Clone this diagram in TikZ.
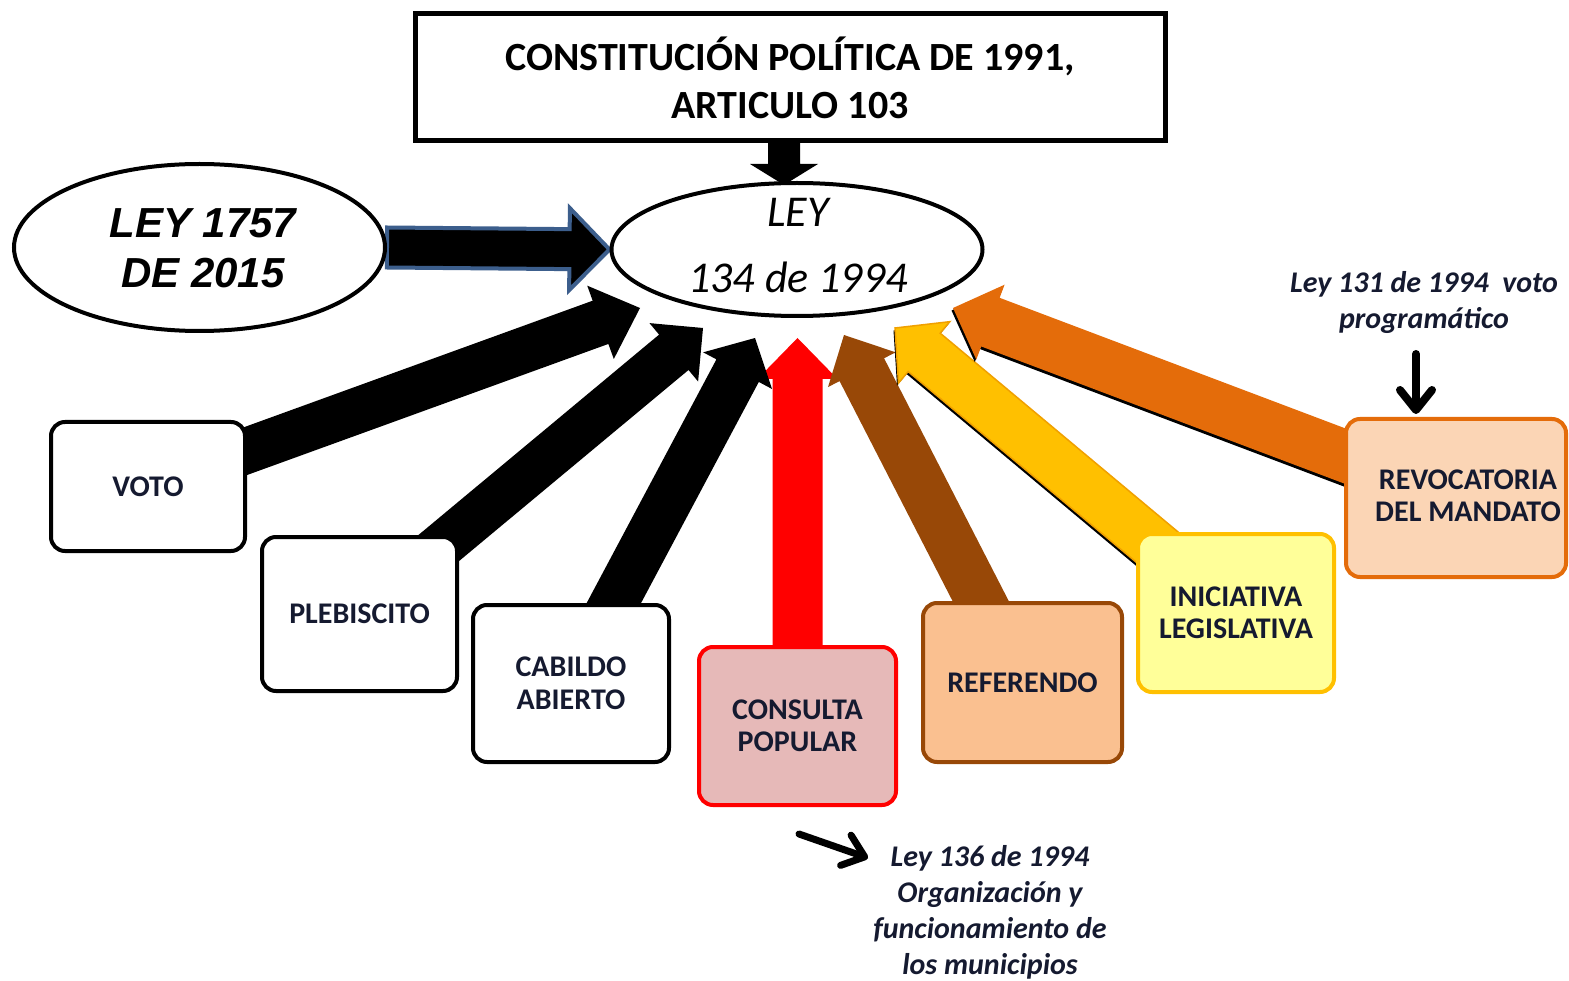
\documentclass[tikz,border=0pt]{standalone}
\usepackage{fontspec}
\setmainfont{Carlito}
\newfontfamily\arialfont{Liberation Sans}
\usetikzlibrary{shapes.geometric,calc,arrows.meta,backgrounds}
\definecolor{txt}{HTML}{151A30}
\definecolor{blueo}{HTML}{3C5E8C}
\definecolor{cred}{HTML}{FF0000}
\definecolor{cpink}{HTML}{E6B9B8}
\definecolor{cbrown}{HTML}{984807}
\definecolor{cpeach}{HTML}{FAC090}
\definecolor{cgold}{HTML}{FFC000}
\definecolor{cgoldline}{HTML}{F0A000}
\definecolor{clyellow}{HTML}{FFFF99}
\definecolor{corange}{HTML}{E46C0A}
\definecolor{clorange}{HTML}{FBD5B5}
% #1 style, #2 start, #3 tip, #4 half shaft, #5 half head, #6 head length
\newcommand\blockarrow[6]{%
  \coordinate (ba-h) at ($(#3)!#6!(#2)$);
  \path[#1] ($(#2)!#4!90:(#3)$) -- ($(ba-h)!#4!90:(#3)$) -- ($(ba-h)!#5!90:(#3)$) -- (#3)
    -- ($(ba-h)!#5!-90:(#3)$) -- ($(ba-h)!#4!-90:(#3)$) -- ($(#2)!#4!-90:(#3)$) -- cycle;}
\begin{document}
\begin{tikzpicture}[x=1pt,y=-1pt,
  box/.style={draw, line width=4pt, rounded corners=14pt, fill=white, inner sep=0pt,
    align=center, text=txt, font=\fontsize{30}{32.5}\selectfont\bfseries},
  boxtext/.style={align=center, text=txt, font=\fontsize{30}{32.5}\selectfont\bfseries},
  lbl/.style={align=center, text=txt, font=\fontsize{30}{36}\selectfont\bfseries\itshape},
  thinarrow/.style={line width=8pt, line cap=round, -{Straight Barb[length=20pt,width=32pt,round]}},
  shadowed/.style={preaction={fill=black, transform canvas={shift={(-1.5,2.5)}}}}
]
\useasboundingbox (0,0) rectangle (1569,981);

% top box
\node[draw, line width=5pt, minimum width=750pt, minimum height=127pt, inner sep=0pt,
  align=center, text=black, font=\fontsize{40}{48}\selectfont\bfseries] (cp) at (790,77.5)
  {CONSTITUCIÓN POLÍTICA DE 1991,\\ARTICULO 103};

% ellipses
\node[ellipse, draw, line width=4pt, fill=white, minimum width=371pt, minimum height=133pt, inner sep=0pt] (ley) at (797,249.5) {};
\node[anchor=base, font=\fontsize{44}{50}\selectfont\itshape] (leyA) at (798,227) {LEY};
\node[anchor=base, font=\fontsize{44}{50}\selectfont\itshape] (leyB) at (798,293) {134 de 1994};

\node[ellipse, draw, line width=4pt, fill=white, minimum width=371pt, minimum height=167pt, inner sep=0pt] (l1757) at (199.5,247.5) {};
\node[anchor=base, font=\fontsize{42}{50}\selectfont\arialfont\bfseries\itshape] (l1757A) at (203,238) {LEY 1757};
\node[anchor=base, font=\fontsize{42}{50}\selectfont\arialfont\bfseries\itshape] (l1757B) at (203,288) {DE 2015};

% boxes
\node[box, minimum width=194pt, minimum height=129pt] (voto) at (148,486.5) {VOTO};
\node[box, minimum width=195pt, minimum height=154pt] (pleb) at (359.5,614) {PLEBISCITO};
\node[box, minimum width=196pt, minimum height=157pt] (cab) at (571,683.5) {CABILDO\\ABIERTO};
\node[box, draw=cred, fill=cpink, minimum width=197pt, minimum height=158pt] (cons) at (797.5,726) {CONSULTA\\POPULAR};
\node[box, draw=cbrown, fill=cpeach, minimum width=199pt, minimum height=159pt] (ref) at (1022.5,682.5) {REFERENDO};
\node[box, draw=cgold, fill=clyellow, minimum width=196pt, minimum height=158pt] (ini) at (1236,613) {INICIATIVA\\LEGISLATIVA};
\node[box, draw=corange, fill=clorange, minimum width=220pt, minimum height=158pt] (rev) at (1456,498) {};
\node[boxtext] (revt) at (1468,496) {REVOCATORIA\\DEL MANDATO};

% annotations
\node[lbl] (n131) at (1424,303) {Ley 131 de 1994~ voto\\programático};
\node[lbl] (n136) at (990,912) {Ley 136 de 1994\\Organización y\\funcionamiento de\\los municipios};
\coordinate (n1a) at (1416,354);
\coordinate (n1b) at (1416,414);
\draw[thinarrow] (n1a) -- (n1b);
\coordinate (n2a) at (799,834);
\coordinate (n2b) at (868,858);
\draw[thinarrow, line width=7pt] (n2a) -- (n2b);

% tips
\coordinate (tVoto) at (640,308);
\coordinate (tPleb) at (703,328);
\coordinate (tCab) at (755,338);
\coordinate (tCons) at (797.5,338);
\coordinate (tRef) at (844,335);
\coordinate (tIni) at (895,328);
\coordinate (tRev) at (953,308);
\coordinate (cpA) at (784,140);
\coordinate (cpB) at (784,185);

\begin{scope}[on background layer]
\fill[white] (0,0) rectangle (1569,981);
\blockarrow{fill=black}{cpA}{cpB}{16pt}{34pt}{21pt}
\blockarrow{fill=black, draw=blueo, line width=4pt, line join=miter}{l1757.east}{ley.west}{20pt}{41pt}{40pt}
\blockarrow{fill=cred}{cons.center}{tCons}{25pt}{40pt}{41pt}
\blockarrow{fill=black}{voto.center}{tVoto}{23pt}{39pt}{42pt}
\blockarrow{fill=black}{pleb.center}{tPleb}{23pt}{38pt}{38pt}
\blockarrow{fill=black}{cab.center}{tCab}{24pt}{39pt}{37pt}
\blockarrow{fill=cbrown}{ref.center}{tRef}{25pt}{38pt}{39pt}
\blockarrow{fill=cgold, draw=cgoldline, line width=1.5pt, shadowed}{ini.center}{tIni}{25pt}{40pt}{38pt}
\blockarrow{fill=corange, shadowed}{rev.center}{tRev}{26pt}{40pt}{40pt}
\end{scope}
\end{tikzpicture}
\end{document}
